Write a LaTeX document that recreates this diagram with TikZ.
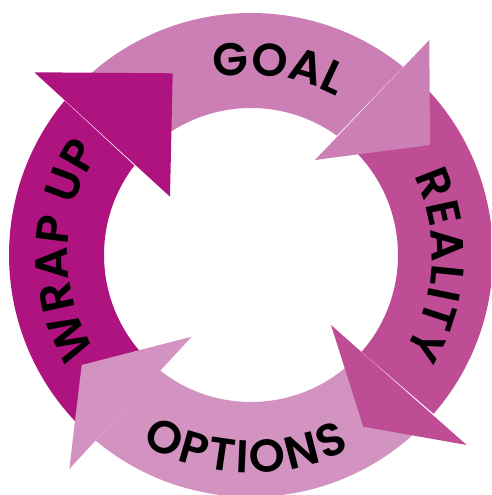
\documentclass[tikz,border=0pt]{standalone}
\usepackage{fontspec}
\IfFontExistsTF{Poppins SemiBold}{\setmainfont{Poppins SemiBold}}{\IfFontExistsTF{Poppins Medium}{\setmainfont{Poppins Medium}}{\setmainfont{Poppins}}}
\usetikzlibrary{decorations.text}

\definecolor{goalpink}{RGB}{204,127,180}
\definecolor{realitypink}{RGB}{190,77,150}
\definecolor{optionspink}{RGB}{211,147,193}
\definecolor{wrapmagenta}{RGB}{175,19,127}

\newcommand{\Ro}{242}
\newcommand{\Ri}{147}
\newcommand{\lblfont}{\fontsize{46}{46}\selectfont}

\begin{document}
\begin{tikzpicture}[x=1pt,y=1pt,
	ringlabel/.style={decorate,decoration={text along path,text align=fit to path,text={|\lblfont|#1}}}]
	\useasboundingbox (-251,-240) rectangle (240,255);
	\clip (-251,-240) rectangle (240,255);

	%ARROW BODIES -- each one starts under the head before it
	\foreach \sa/\eo/\ei/\col in {226/140.4/142.5/wrapmagenta, 137/51/54.3/goalpink, 47/-41/-41.2/realitypink, -45/-129.9/-128.2/optionspink}{
		\fill[\col] (\sa:\Ro) arc[start angle=\sa,end angle=\eo,radius=\Ro] -- (\ei:\Ri) arc[start angle=\ei,end angle=\sa,radius=\Ri] -- cycle;
	}

	%ARROW HEADS -- outer barb, tip, inner barb
	\fill[wrapmagenta] (-216.7,182.7)--(-78.3,181.7)--(-81,58.3)--cycle;
	\fill[goalpink] (178.3,215)--(179,110)--(64,95)--cycle;
	\fill[realitypink] (215.7,-190)--(112.3,-171.7)--(80,-70)--cycle;
	\fill[optionspink] (-181.7,-214)--(-169.3,-110)--(-59.3,-81.7)--cycle;

	%LABELS
	\path[ringlabel=GOAL] (101.5:180) arc[start angle=101.5,end angle=62.5,radius=180];
	\path[ringlabel=REALITY] (26:181) arc[start angle=26,end angle=-32,radius=181];
	\path[ringlabel=OPTIONS] (240:218) arc[start angle=240,end angle=297,radius=218];
	\path[ringlabel=WRAP UP] (212:183) arc[start angle=212,end angle=145.5,radius=183];
\end{tikzpicture}
\end{document}
